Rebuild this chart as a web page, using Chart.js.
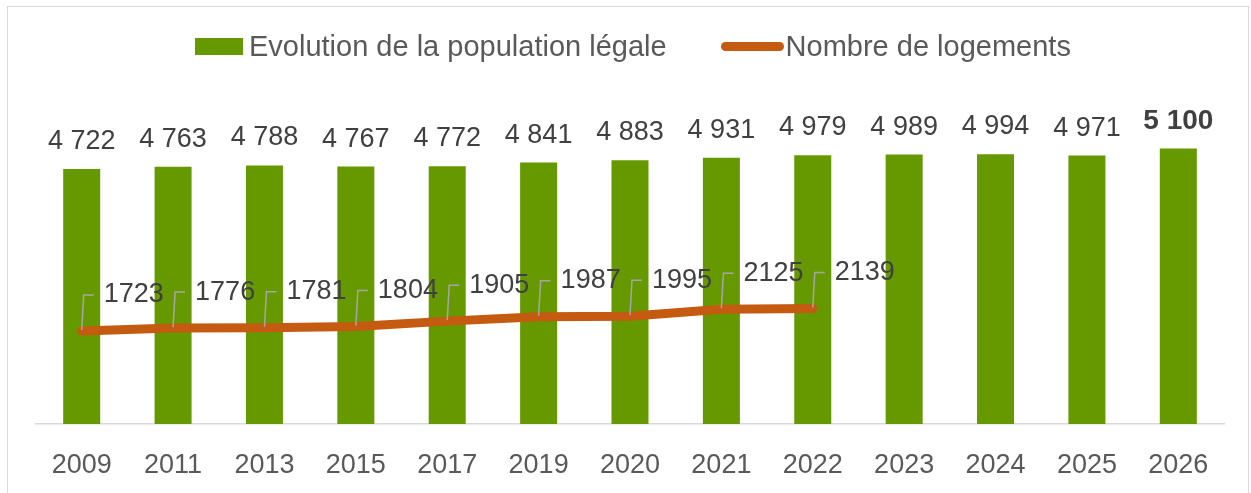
<!DOCTYPE html>
<html lang="fr">
<head>
    <meta charset="UTF-8">
    <title>Population et logements</title>
    <script src="https://cdn.jsdelivr.net/npm/chart.js"></script>
    <style>
        body { margin: 0; background: #fff; font-family: "Liberation Sans", Arial, sans-serif; }
        .frame { position: absolute; left: 7px; top: 6px; width: 1242px; height: 492px; border: 1px solid #d9d9d9; box-sizing: border-box; }
        canvas { position: absolute; left: 0; top: 0; }
        .legend { position: absolute; left: 195px; top: 30px; height: 32px; display: flex; align-items: center; color: #595959; font-size: 29px; white-space: nowrap; }
        .legend .box { width: 48px; height: 17px; background: #669900; margin-right: 6px; }
        .legend .ln { width: 63px; height: 9px; border-radius: 5px; background: #c55a11; margin-left: 54px; margin-right: 2px; }
    </style>
</head>
<body>
<div class="frame"></div>
<canvas id="chart" width="1251" height="493"></canvas>
<div class="legend">
    <span class="box"></span><span>Evolution de la population légale</span>
    <span class="ln"></span><span>Nombre de logements</span>
</div>

<script>
    const years = ["2009", "2011", "2013", "2015", "2017", "2019", "2020", "2021", "2022", "2023", "2024", "2025", "2026"];
    const population = [4722, 4763, 4788, 4767, 4772, 4841, 4883, 4931, 4979, 4989, 4994, 4971, 5100];
    const logements = [1723, 1776, 1781, 1804, 1905, 1987, 1995, 2125, 2139, null, null, null, null];

    const FONT = '"Liberation Sans", Arial, sans-serif';

    function frNumber(v) {
        return String(v).replace(/\B(?=(\d{3})+(?!\d))/g, " ");
    }

    // etiquettes des barres et de la courbe (avec traits de rappel)
    const labelsPlugin = {
        id: 'labels',
        afterDatasetsDraw(chart) {
            const ctx = chart.ctx;
            ctx.save();

            const bars = chart.getDatasetMeta(0);
            bars.data.forEach((bar, i) => {
                const last = i === bars.data.length - 1;
                ctx.font = (last ? 'bold 28px ' : '27px ') + FONT;
                ctx.fillStyle = '#404040';
                ctx.textAlign = 'center';
                ctx.textBaseline = 'alphabetic';
                ctx.fillText(frNumber(population[i]), bar.x, bar.y - 20);
            });

            const line = chart.getDatasetMeta(1);
            line.data.forEach((pt, i) => {
                if (logements[i] == null) return;
                const ly = pt.y - 36;
                ctx.strokeStyle = '#a6a6a6';
                ctx.lineWidth = 1.5;
                ctx.beginPath();
                ctx.moveTo(pt.x, pt.y - 1);
                ctx.lineTo(pt.x + 2, ly);
                ctx.lineTo(pt.x + 12, ly);
                ctx.stroke();

                ctx.font = '27px ' + FONT;
                ctx.fillStyle = '#404040';
                ctx.textAlign = 'left';
                ctx.textBaseline = 'middle';
                ctx.fillText(String(logements[i]), pt.x + 22, ly);
            });

            ctx.restore();
        }
    };

    const ctx = document.getElementById('chart').getContext('2d');
    const chart = new Chart(ctx, {
        data: {
            labels: years,
            datasets: [
                {
                    type: 'bar',
                    label: 'Evolution de la population légale',
                    data: population,
                    backgroundColor: '#669900',
                    categoryPercentage: 1,
                    barPercentage: 0.405,
                    order: 1
                },
                {
                    type: 'line',
                    label: 'Nombre de logements',
                    data: logements,
                    borderColor: '#c55a11',
                    borderWidth: 9,
                    borderCapStyle: 'round',
                    borderJoinStyle: 'round',
                    pointRadius: 0,
                    tension: 0,
                    order: 0
                }
            ]
        },
        options: {
            responsive: false,
            animation: false,
            layout: { padding: { left: 36, right: 27, top: 100, bottom: 0 } },
            plugins: {
                legend: { display: false },
                tooltip: { enabled: false }
            },
            scales: {
                x: {
                    grid: { display: false, drawTicks: false },
                    border: { color: '#d9d9d9', width: 1.5 },
                    ticks: { color: '#595959', font: { family: FONT, size: 27 }, padding: 25, maxRotation: 0 },
                    afterFit(scale) { scale.height = 69; }
                },
                y: {
                    display: false,
                    min: 0,
                    max: 6000
                }
            }
        },
        plugins: [labelsPlugin]
    });
</script>
</body>
</html>
